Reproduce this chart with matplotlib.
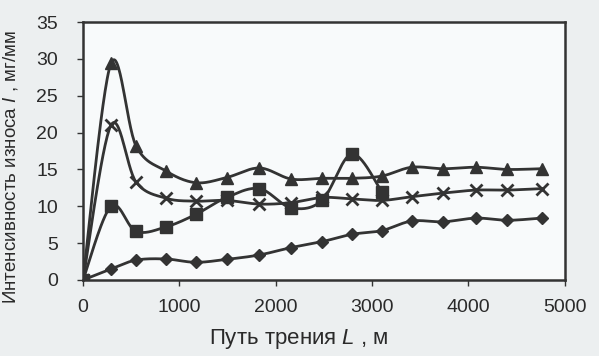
import numpy as np
import matplotlib
matplotlib.use("Agg")
import matplotlib.pyplot as plt

plt.rcParams['font.family'] = ['Liberation Sans', 'DejaVu Sans']
plt.rcParams['mathtext.fontset'] = 'custom'
plt.rcParams['mathtext.rm'] = 'Liberation Sans'
plt.rcParams['mathtext.it'] = 'Liberation Sans:italic'

# ---- data ----
x_full = [0, 290, 550, 860, 1170, 1490, 1830, 2160, 2480, 2790, 3100,
          3410, 3740, 4080, 4400, 4760]
tri = [0, 29.4, 18.2, 14.8, 13.2, 13.9, 15.2, 13.7, 13.8, 13.8, 14.1,
       15.3, 15.1, 15.3, 15.0, 15.1]
cross = [0, 21.0, 13.3, 11.1, 10.7, 10.8, 10.3, 10.5, 11.2, 11.0, 10.8,
         11.3, 11.8, 12.2, 12.2, 12.4]
x_sq = [0, 290, 550, 860, 1170, 1490, 1830, 2160, 2480, 2790, 3100]
sq = [0, 10.0, 6.6, 7.2, 8.9, 11.2, 12.4, 9.8, 10.8, 17.1, 12.0]
diam = [0, 1.5, 2.7, 2.85, 2.4, 2.8, 3.4, 4.4, 5.2, 6.2, 6.7,
        8.0, 7.9, 8.4, 8.1, 8.4]

x_ticks = [0, 1000, 2000, 3000, 4000, 5000]
y_ticks = [0, 5, 10, 15, 20, 25, 30, 35]

XMAX, YMAX = 5000, 35
INK = '#333333'


def smooth(xs, ys, n=30):
    """Excel-like smoothed line (Catmull-Rom Bezier) in screen-proportional space."""
    sx, sy = 482.0 / XMAX, 260.0 / YMAX
    P = np.column_stack([np.asarray(xs, float) * sx, np.asarray(ys, float) * sy])
    out = []
    m = len(P)
    for i in range(m - 1):
        p0 = P[i - 1] if i > 0 else P[i]
        p1 = P[i]
        p2 = P[i + 1]
        p3 = P[i + 2] if i + 2 < m else P[i + 1]
        c1 = p1 + (p2 - p0) / 6.0
        c2 = p2 - (p3 - p1) / 6.0
        t = np.linspace(0, 1, n, endpoint=(i == m - 2))[:, None]
        seg = ((1 - t) ** 3) * p1 + 3 * ((1 - t) ** 2) * t * c1 + 3 * (1 - t) * t ** 2 * c2 + t ** 3 * p2
        out.append(seg)
    Q = np.vstack(out)
    return Q[:, 0] / sx, Q[:, 1] / sy


fig = plt.figure(figsize=(5.99, 3.56), dpi=100, facecolor='#eceff0')
ax = fig.add_axes([0.1386, 0.2135, 0.8044, 0.7245])
ax.set_facecolor('#f8fafb')

series = [
    (x_full, tri, dict(marker='^', ms=8)),
    (x_full, cross, dict(marker='x', ms=8, mew=2.0)),
    (x_sq, sq, dict(marker='s', ms=8)),
    (x_full, diam, dict(marker='D', ms=6)),
]
for xs, ys, mk in series:
    cx, cy = smooth(xs, ys)
    ax.plot(cx, cy, color=INK, lw=2.0, solid_capstyle='round', zorder=3)
    ax.plot(xs, ys, ls='none', color=INK, mec=INK, mfc=INK, zorder=4, **mk)

ax.set_xlim(0, XMAX)
ax.set_ylim(0, YMAX)
ax.set_xticks(x_ticks)
ax.set_yticks(y_ticks)
ax.set_xticklabels([str(v) for v in x_ticks])
ax.set_yticklabels([str(v) for v in y_ticks])
ax.tick_params(axis='both', direction='out', length=4, width=1.0, colors=INK,
               labelsize=14, labelcolor='#2a2a2a')
ax.tick_params(axis='x', pad=10)
ax.tick_params(axis='y', pad=14)
for s in ax.spines.values():
    s.set_color(INK)
    s.set_linewidth(1.8)

fig.text(299 / 599, 1 - 339 / 356, 'Путь трения $L$ , м', ha='center', va='center',
         fontsize=16, color='#2a2a2a')
fig.text(11 / 599, 1 - 167 / 356, 'Интенсивность износа $I$ , мг/мм', ha='center',
         va='center', rotation=90, fontsize=13.5, color='#2a2a2a')

fig.savefig('out.png', dpi=100, facecolor=fig.get_facecolor())
